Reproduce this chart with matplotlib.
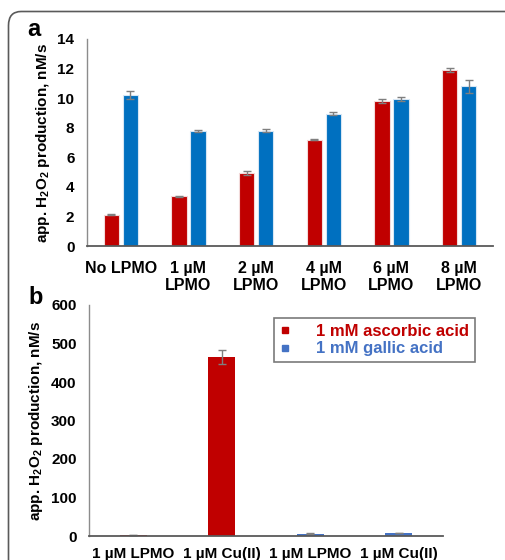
import numpy as np
import matplotlib
matplotlib.use("Agg")
import matplotlib.pyplot as plt
from matplotlib.lines import Line2D
from matplotlib.patches import FancyBboxPatch

plt.rcParams['font.family'] = ['Liberation Sans', 'DejaVu Sans']
plt.rcParams['font.weight'] = 'bold'
plt.rcParams['axes.labelweight'] = 'bold'
plt.rcParams['mathtext.fontset'] = 'custom'
plt.rcParams['mathtext.rm'] = 'Liberation Sans:bold'
plt.rcParams['mathtext.bf'] = 'Liberation Sans:bold'

# Panel a: H2O2 production vs LPMO concentration
a_labels = ["No LPMO", "1 µM\nLPMO", "2 µM\nLPMO", "4 µM\nLPMO", "6 µM\nLPMO", "8 µM\nLPMO"]
a_red = [2.12, 3.37, 4.95, 7.20, 9.81, 11.88]
a_red_err = [0.03, 0.03, 0.15, 0.04, 0.12, 0.13]
a_blue = [10.20, 7.77, 7.81, 8.96, 9.93, 10.80]
a_blue_err = [0.27, 0.06, 0.08, 0.09, 0.12, 0.43]

# Panel b: LPMO vs free copper
b_labels = ["1 µM LPMO", "1 µM Cu(II)", "1 µM LPMO", "1 µM Cu(II)"]
b_values = [2.5, 466, 6, 8]
b_err = [0.5, 18, 0.8, 1.0]
b_series = ["1 mM ascorbic acid", "1 mM gallic acid"]

red = "#C00000"
blue = "#0070C0"
light_blue = "#4472C4"
err_col = "#7F7F7F"
ylab = r"app. H$_2$O$_2$ production, nM/s"

W, H = 505, 560
fig = plt.figure(figsize=(W / 100, H / 100), dpi=100)


def px_axes(x0, y0, x1, y1):
    return fig.add_axes([x0 / W, 1 - y1 / H, (x1 - x0) / W, (y1 - y0) / H])


def style(ax):
    for s in ["top", "right"]:
        ax.spines[s].set_visible(False)
    ax.spines["left"].set_color("#8C8C8C")
    ax.spines["bottom"].set_color("#595959")
    ax.spines["left"].set_linewidth(1.0)
    ax.spines["bottom"].set_linewidth(1.3)
    ax.tick_params(length=0, labelsize=11, pad=9)


# rounded outer frame
frame = FancyBboxPatch((8.5 / W, -0.2), 1.2, 1.2 - 11.5 / H,
                       boxstyle="round,pad=0,rounding_size=0.025",
                       transform=fig.transFigure, fill=False,
                       edgecolor="#5A5A5A", linewidth=1.2)
fig.patches.append(frame)

# ---- panel a ----
ax1 = px_axes(87, 39, 493, 246)
x = np.arange(len(a_labels))
ekw = dict(ecolor=err_col, elinewidth=1.0, capsize=3, capthick=1.0)
ax1.bar(x - 0.142, a_red, 0.225, color=red, edgecolor="#F2DADA", linewidth=0.8,
        yerr=a_red_err, error_kw=ekw)
ax1.bar(x + 0.142, a_blue, 0.225, color=blue, edgecolor="#D6E6F4", linewidth=0.8,
        yerr=a_blue_err, error_kw=ekw)
ax1.set_xlim(-0.5, len(a_labels) - 0.5)
ax1.set_ylim(0, 14)
ax1.set_yticks(range(0, 15, 2))
ax1.set_xticks(x)
ax1.set_xticklabels(a_labels, linespacing=1.12)
style(ax1)
ax1.tick_params(axis="x", labelsize=11.5, pad=11)
ax1.set_ylabel(ylab, fontsize=11)
ax1.yaxis.set_label_coords(-35 / 406, 0.5)
fig.text(27 / W, 1 - 30 / H, "a", fontsize=17, va="center", fontweight="bold")

# ---- panel b ----
ax2 = px_axes(89, 305, 443, 536)
xb = np.arange(len(b_labels))
b_colors = [red, red, light_blue, light_blue]
ax2.bar(xb, b_values, 0.31, color=b_colors, linewidth=0,
        yerr=b_err, error_kw=ekw)
ax2.set_xlim(-0.5, len(b_labels) - 0.5)
ax2.set_ylim(0, 600)
ax2.set_yticks(range(0, 601, 100))
ax2.set_xticks(xb)
ax2.set_xticklabels(b_labels)
style(ax2)
ax2.tick_params(axis="x", labelsize=11, pad=8)
ax2.set_ylabel(ylab, fontsize=11)
ax2.yaxis.set_label_coords(-44 / 354, 0.5)
fig.text(28 / W, 1 - 298 / H, "b", fontsize=17, va="center", fontweight="bold")

handles = [Line2D([], [], marker="s", markersize=4, linestyle="none", color=red),
           Line2D([], [], marker="s", markersize=4, linestyle="none", color=light_blue)]
leg = ax2.legend(handles, b_series, loc="upper left",
                 bbox_to_anchor=(274 / W, 1 - 318 / H), bbox_transform=fig.transFigure,
                 fontsize=12, frameon=True, fancybox=False, handlelength=0.6,
                 handletextpad=1.6, labelspacing=0.15, borderpad=0.35,
                 borderaxespad=0, labelcolor=[red, light_blue])
leg.get_frame().set_edgecolor("#595959")
leg.get_frame().set_linewidth(1.2)

fig.savefig("out.png", dpi=100)
